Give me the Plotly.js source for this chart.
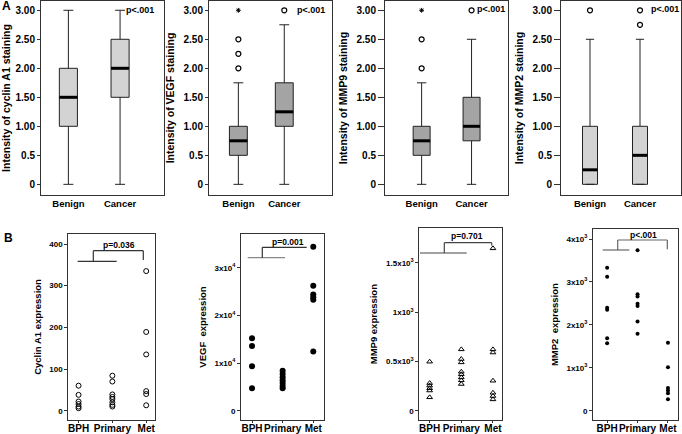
<!DOCTYPE html>
<html><head><meta charset="utf-8">
<script src="https://cdn.plot.ly/plotly-3.0.1.min.js"></script>
<style>html,body{margin:0;padding:0;background:#fff}#chart{width:682px;height:434px}</style>
</head><body><div id="chart"></div>
<script>
// ---------- DATA (panel A: box summaries, intensity of staining) ----------
const boxGroups = ['Benign', 'Cancer'];
const intensityTicks = [0, 0.5, 1, 1.5, 2, 2.5, 3];
const intensityTickText = ['0', '0.5', '1.00', '1.50', '2.00', '2.50', '3.00'];

const cyclinLower = [0, 0], cyclinQ1 = [1.0, 1.5], cyclinMed = [1.5, 2.0], cyclinQ3 = [2.0, 2.5], cyclinUpper = [3.0, 3.0];
const vegfLower = [0, 0], vegfQ1 = [0.5, 1.0], vegfMed = [0.75, 1.25], vegfQ3 = [1.0, 1.75], vegfUpper = [1.75, 2.75];
const mmp9Lower = [0, 0], mmp9Q1 = [0.5, 0.75], mmp9Med = [0.75, 1.0], mmp9Q3 = [1.0, 1.5], mmp9Upper = [1.75, 2.5];
const mmp2Lower = [0, 0], mmp2Q1 = [0, 0], mmp2Med = [0.25, 0.5], mmp2Q3 = [1.0, 1.0], mmp2Upper = [2.5, 2.5];

const vegfOutBenign = [2.0, 2.25, 2.5], vegfExtBenign = [3.0], vegfOutCancer = [3.0];
const mmp9OutBenign = [2.0, 2.5], mmp9ExtBenign = [3.0], mmp9OutCancer = [3.0];
const mmp2OutBenign = [3.0], mmp2OutCancer = [2.75, 3.0];

// ---------- DATA (panel B: expression per sample) ----------
const sampleGroups = ['BPH', 'Primary', 'Met'];
const cyclinBPH = [60, 38, 22, 16, 10, 6];
const cyclinPrimary = [84, 70, 39, 33, 28, 20, 14, 10];
const cyclinMet = [335, 189, 135, 47, 40, 13];
const vegfBPH = [15200, 13600, 9300, 4700];
const vegfPrimary = [8400, 7700, 7000, 6400, 5800, 5200, 4700];
const vegfMet = [34400, 26200, 24400, 23800, 23300, 12400];
const mmp9BPH = [497, 280, 255, 228, 205, 136];
const mmp9Primary = [622, 524, 490, 395, 369, 338, 308, 271];
const mmp9Met = [1646, 622, 590, 304, 182, 149, 115];
const mmp2BPH = [3330, 3120, 2400, 2350, 1690, 1570];
const mmp2Primary = [3740, 2710, 2660, 2490, 2440, 2080, 1790];
const mmp2Met = [1580, 1010, 530, 470, 405, 265];

const cyclinTicks = [0, 100, 200, 300, 400], cyclinTickText = ['0', '100', '200', '300', '400'];
const vegfTicks = [0, 10000, 20000, 30000], vegfTickText = ['0', '1x10<sup>4</sup>', '2x10<sup>4</sup>', '3x10<sup>4</sup>'];
const mmp9Ticks = [0, 500, 1000, 1500], mmp9TickText = ['0', '0.5x10<sup>3</sup>', '1x10<sup>3</sup>', '1.5x10<sup>3</sup>'];
const mmp2Ticks = [0, 1000, 2000, 3000, 4000], mmp2TickText = ['0', '1x10<sup>3</sup>', '2x10<sup>3</sup>', '3x10<sup>3</sup>', '4x10<sup>3</sup>'];

// ---------- LAYOUT HELPERS ----------
const W = 682, H = 434;
const px = x => x / W, py = y => 1 - y / H;
const FONT = 'Arial, "Liberation Sans", sans-serif';
const b = s => '<b>' + s + '</b>';

const layout = {
  width: W, height: H, margin: {l: 0, r: 0, t: 0, b: 0},
  paper_bgcolor: '#fff', plot_bgcolor: '#fff', showlegend: false,
  font: {family: FONT, color: '#000', size: 10},
  annotations: [], shapes: []
};
const traces = [];

function addAxes(n, xdom, ydom, xrange, yrange, xticks, xtext, yticks, ytext, ytitle, opts) {
  const xs = n === 1 ? 'xaxis' : 'xaxis' + n, ys = n === 1 ? 'yaxis' : 'yaxis' + n;
  layout[xs] = {
    domain: [px(xdom[0]), px(xdom[1])], range: xrange, anchor: 'y' + (n === 1 ? '' : n),
    tickvals: xticks, ticktext: xtext.map(b), ticks: 'outside', ticklen: opts.xticklen, tickcolor: '#333',
    tickangle: 0, ticklabelstandoff: opts.xstandoff,
    tickfont: {size: opts.xfont, family: FONT}, showline: true, mirror: true, linecolor: '#333', linewidth: 1,
    showgrid: false, zeroline: false, fixedrange: true
  };
  layout[ys] = {
    domain: [py(ydom[0]), py(ydom[1])], range: yrange, anchor: 'x' + (n === 1 ? '' : n),
    tickvals: yticks, ticktext: ytext.map(b), ticks: 'outside', ticklen: opts.yticklen, tickcolor: '#333',
    tickangle: 0,
    tickfont: {size: opts.yfont, family: FONT}, showline: true, mirror: true, linecolor: '#333', linewidth: 1,
    showgrid: false, zeroline: false, fixedrange: true,
    title: {text: b(ytitle), font: {size: opts.tfont, family: FONT}, standoff: opts.standoff}
  };
  return {xa: 'x' + (n === 1 ? '' : n), ya: 'y' + (n === 1 ? '' : n)};
}

function addBoxPanel(n, xdom, lower, q1, med, q3, upper, fill, w, ytitle, ticklen, outs) {
  const ax = addAxes(n, [xdom.l, xdom.rr], [195, 1], xdom.r, [-0.184, 3.16], [1, 2], boxGroups,
    intensityTicks, intensityTickText, ytitle,
    {xticklen: 0, yticklen: ticklen, xfont: 9.5, yfont: 10, tfont: 10.5, standoff: 6, xstandoff: 0});
  traces.push({
    type: 'box', xaxis: ax.xa, yaxis: ax.ya, x: [1, 2],
    lowerfence: lower, q1: q1, median: med, q3: q3, upperfence: upper,
    width: w, whiskerwidth: 0.55, fillcolor: fill, line: {color: '#222', width: 1},
    boxpoints: false, hoverinfo: 'skip'
  });
  const mx = [], my = [];
  med.forEach((m, i) => { mx.push(i + 1 - w / 2, i + 1 + w / 2, null); my.push(m, m, null); });
  traces.push({type: 'scatter', mode: 'lines', xaxis: ax.xa, yaxis: ax.ya, x: mx, y: my,
    line: {color: '#000', width: 3}, hoverinfo: 'skip'});
  outs.forEach(o => {
    traces.push({type: 'scatter', mode: 'markers', xaxis: ax.xa, yaxis: ax.ya,
      x: o.vals.map(() => o.pos), y: o.vals,
      marker: o.ext ? {symbol: 'asterisk-open', size: 4, color: '#000', line: {color: '#000', width: 1}}
                    : {symbol: 'circle-open', size: 5, color: '#000', line: {color: '#000', width: 1.2}},
      hoverinfo: 'skip'});
  });
}

// ---------- PANEL A ----------
addBoxPanel(1, {l: 41, rr: 164, r: [0.47, 2.85]}, cyclinLower, cyclinQ1, cyclinMed, cyclinQ3, cyclinUpper,
  '#d3d3d3', 0.35, 'Intensity of cyclin A1 staining', 3, []);
addBoxPanel(2, {l: 209, rr: 332, r: [0.36, 3.04]}, vegfLower, vegfQ1, vegfMed, vegfQ3, vegfUpper,
  '#a4a4a4', 0.39, 'Intensity of VEGF staining', 3,
  [{pos: 1, vals: vegfOutBenign}, {pos: 1, vals: vegfExtBenign, ext: true}, {pos: 2, vals: vegfOutCancer}]);
addBoxPanel(3, {l: 385, rr: 508, r: [0.266, 2.73]}, mmp9Lower, mmp9Q1, mmp9Med, mmp9Q3, mmp9Upper,
  '#a4a4a4', 0.34, 'Intensity of MMP9 staining', 6,
  [{pos: 1, vals: mmp9OutBenign}, {pos: 1, vals: mmp9ExtBenign, ext: true}, {pos: 2, vals: mmp9OutCancer}]);
addBoxPanel(4, {l: 561, rr: 681, r: [0.42, 2.82]}, mmp2Lower, mmp2Q1, mmp2Med, mmp2Q3, mmp2Upper,
  '#d3d3d3', 0.3, 'Intensity of MMP2 staining', 6,
  [{pos: 1, vals: mmp2OutBenign}, {pos: 2, vals: mmp2OutCancer}]);

// ---------- PANEL B ----------
function addDotPanel(n, xdom, ydom, xr, yr, yticks, ytext, ytitle, series, marker) {
  const ax = addAxes(n, xdom, ydom, xr, yr, [1, 2, 3], sampleGroups, yticks, ytext, ytitle,
    {xticklen: 2, yticklen: 3, xfont: 10, yfont: 8, tfont: 9.5, standoff: 6, xstandoff: -3});
  series.forEach((vals, i) => {
    traces.push({type: 'scatter', mode: 'markers', xaxis: ax.xa, yaxis: ax.ya,
      x: vals.map(() => i + 1), y: vals, marker: marker, hoverinfo: 'skip'});
  });
}
addDotPanel(5, [68.3, 155], [420, 234], [0.697, 3.26], [-22.3, 424], cyclinTicks, cyclinTickText,
  'Cyclin A1 expression', [cyclinBPH, cyclinPrimary, cyclinMet],
  {symbol: 'circle-open', size: 5, color: '#000', line: {color: '#000', width: 1}});
addDotPanel(6, [241, 324.3], [420, 234], [0.64, 3.36], [-1950, 37070], vegfTicks, vegfTickText,
  'VEGF  expression', [vegfBPH, vegfPrimary, vegfMet],
  {symbol: 'circle', size: 6, color: '#000'});
addDotPanel(7, [419.3, 502.3], [420, 228.3], [0.673, 3.295], [-94, 1849], mmp9Ticks, mmp9TickText,
  'MMP9 expression', [mmp9BPH, mmp9Primary, mmp9Met],
  {symbol: 'triangle-up-open', size: 5, color: '#000', line: {color: '#000', width: 1}});
addDotPanel(8, [593, 678.3], [420, 229.3], [0.535, 3.34], [-217, 4226], mmp2Ticks, mmp2TickText,
  'MMP2  expression', [mmp2BPH, mmp2Primary, mmp2Met],
  {symbol: 'circle', size: 4, color: '#000'});

// ---------- ANNOTATIONS ----------
function note(text, x, y, size) {
  layout.annotations.push({text: b(text), x: px(x), y: py(y), xref: 'paper', yref: 'paper',
    showarrow: false, font: {size: size, family: FONT, color: '#000'}, xanchor: 'center', yanchor: 'middle'});
}
note('A', 6, 6, 12);
note('B', 8, 238, 12);
note('p<.001', 139.5, 10, 9);
note('p<.001', 311, 10, 9);
note('p<.001', 490.5, 9, 9);
note('p<.001', 664.5, 9, 9);
note('p=0.036', 119, 245, 8.5);
note('p=0.001', 288, 242, 8.5);
note('p=0.701', 466.7, 236, 8.5);
note('p<.001', 643, 235, 8.5);

function seg(x0, y0, x1, y1, color) {
  layout.shapes.push({type: 'line', xref: 'paper', yref: 'paper', x0: px(x0), y0: py(y0), x1: px(x1), y1: py(y1),
    line: {color: color, width: 1.2}});
}
function bracket(l0, l1, ly, vx, ty, tx1, dy, c1, c2) {
  seg(l0, ly, l1, ly, c1);
  seg(vx, ly, vx, ty, c2);
  seg(vx, ty, tx1, ty, c2);
  if (dy !== null) seg(tx1, ty, tx1, dy, c2);
}
bracket(77.7, 116.7, 261.3, 93.3, 250.7, 143.3, 260, '#333', '#333');
bracket(247.7, 285, 257.7, 262.3, 247.3, 306.7, null, '#888', '#333');
bracket(420, 466.7, 253, 444.3, 242.7, 491.7, 245.5, '#444', '#444');
bracket(602.7, 629.3, 250, 617.7, 240, 667.3, 249.3, '#666', '#666');

Plotly.newPlot('chart', traces, layout, {staticPlot: true, displayModeBar: false});
</script>
</body></html>
